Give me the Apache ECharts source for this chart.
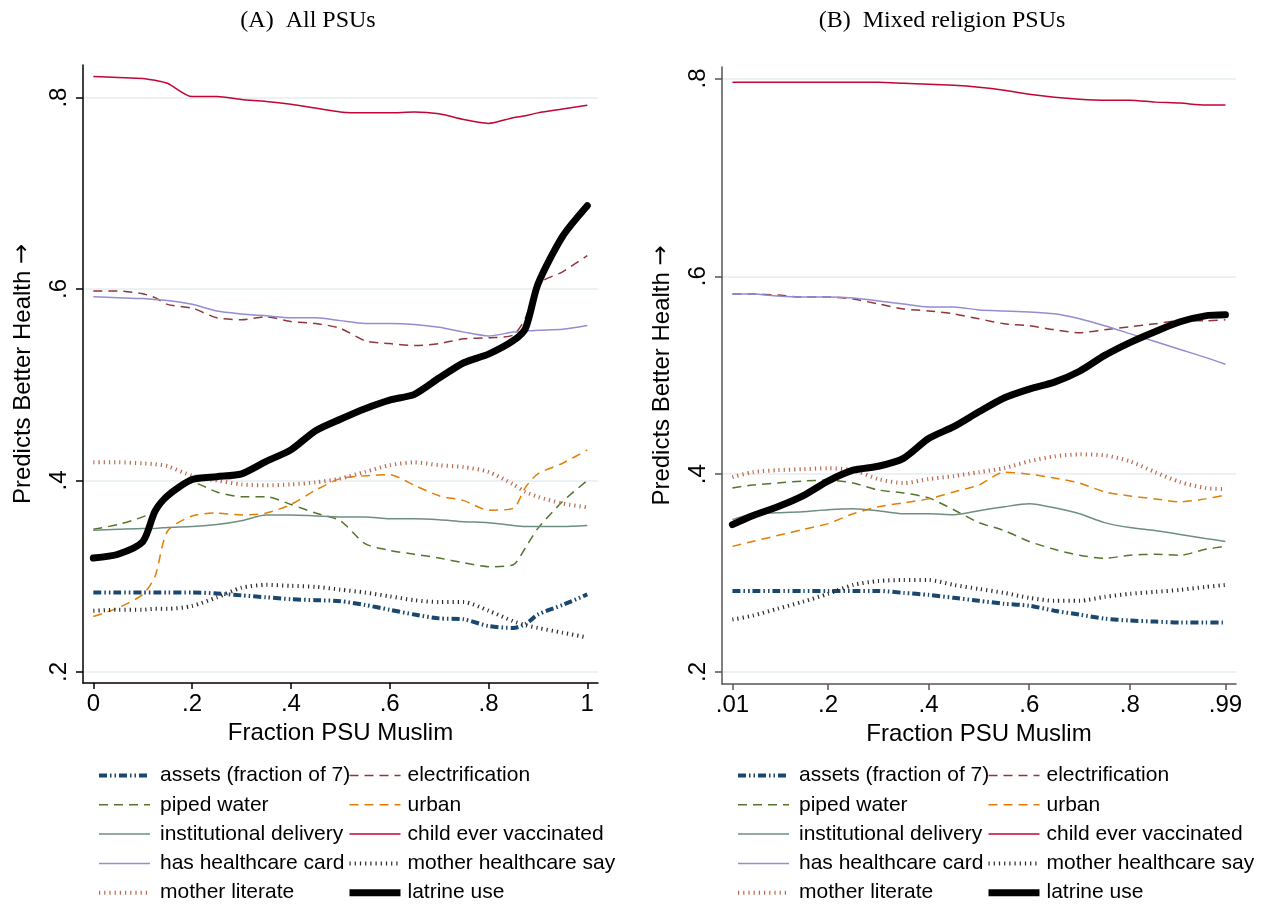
<!DOCTYPE html>
<html>
<head>
<meta charset="utf-8">
<script src="https://cdn.jsdelivr.net/npm/echarts@6/dist/echarts.min.js"></script>
<style>
html, body { margin: 0; padding: 0; background: #fff; }
#chart { width: 1265px; height: 905px; }
</style>
</head>
<body>
<div id="chart"></div>
<script>
'use strict';

// ---- data ----
const seriesNames = ['assets (fraction of 7)', 'electrification', 'piped water', 'urban',
    'institutional delivery', 'child ever vaccinated', 'has healthcare card',
    'mother healthcare say', 'mother literate', 'latrine use'];

// (A) All PSUs
const xA = [0, .05, .1, .125, .15, .2, .25, .3, .35, .4, .45, .5, .55, .6, .65, .7, .75, .8, .85, .875, .9, .95, 1];
const assetsA = [.283, .283, .283, .283, .283, .283, .282, .280, .278, .276, .275, .274, .270, .265, .260, .256, .255, .248, .246, .250, .260, .270, .281];
const electrificationA = [.598, .598, .595, .591, .584, .580, .570, .568, .571, .566, .564, .559, .546, .543, .541, .543, .548, .549, .552, .570, .605, .618, .635];
const pipedA = [.349, .354, .362, .368, .388, .398, .388, .383, .383, .375, .366, .358, .334, .327, .323, .319, .314, .310, .312, .330, .350, .378, .400];
const urbanA = [.258, .267, .281, .300, .347, .363, .366, .364, .366, .375, .390, .402, .405, .406, .395, .384, .379, .369, .371, .393, .407, .418, .432];
const institutionalA = [.348, .349, .350, .350, .351, .352, .354, .358, .364, .364, .363, .362, .362, .360, .360, .359, .357, .356, .353, .352, .352, .352, .353];
const vaccinatedA = [.822, .821, .820, .818, .815, .801, .801, .798, .796, .793, .789, .785, .784, .784, .785, .783, .777, .773, .779, .781, .784, .788, .792];
const cardA = [.592, .591, .590, .589, .588, .584, .577, .574, .572, .570, .570, .567, .564, .564, .563, .560, .555, .551, .555, .556, .557, .558, .562];
const sayA = [.264, .265, .265, .266, .266, .269, .278, .288, .291, .290, .289, .286, .283, .279, .275, .273, .273, .264, .253, .249, .246, .241, .236];
const literateA = [.419, .419, .418, .417, .415, .405, .400, .396, .395, .396, .398, .402, .409, .416, .419, .416, .414, .409, .396, .388, .383, .376, .372];
const latrineA = [.319, .323, .336, .368, .384, .401, .404, .407, .420, .432, .452, .464, .475, .484, .490, .507, .523, .532, .546, .559, .605, .655, .687];

// (B) Mixed religion PSUs
const xB = [.01, .05, .1, .15, .2, .25, .3, .35, .4, .45, .5, .55, .6, .65, .7, .75, .8, .85, .9, .95, .99];
const assetsB = [.282, .282, .282, .282, .282, .282, .282, .280, .278, .275, .272, .269, .267, .262, .258, .254, .252, .251, .250, .250, .250];
const electrificationB = [.582, .582, .581, .579, .579, .577, .572, .567, .565, .562, .557, .552, .550, .546, .543, .546, .549, .552, .555, .555, .556];
const pipedB = [.386, .389, .391, .393, .394, .391, .384, .381, .376, .364, .351, .343, .332, .324, .318, .315, .318, .319, .318, .324, .327];
const urbanB = [.327, .332, .338, .344, .350, .360, .367, .371, .375, .382, .389, .402, .400, .396, .391, .382, .378, .375, .372, .375, .379];
const institutionalB = [.354, .360, .361, .362, .364, .365, .363, .360, .360, .359, .363, .367, .370, .366, .360, .351, .346, .343, .339, .335, .332];
const vaccinatedB = [.796, .796, .796, .796, .796, .796, .796, .795, .794, .793, .791, .788, .784, .781, .779, .778, .778, .776, .775, .773, .773];
const cardB = [.582, .582, .580, .579, .579, .578, .575, .572, .569, .569, .566, .565, .564, .562, .557, .550, .542, .534, .526, .518, .511];
const sayB = [.253, .257, .264, .271, .279, .288, .292, .293, .293, .288, .284, .280, .275, .272, .272, .276, .279, .281, .283, .286, .288];
const literateB = [.397, .402, .404, .405, .406, .404, .395, .391, .395, .398, .402, .406, .413, .418, .420, .419, .413, .402, .392, .386, .385];
const latrineB = [.349, .358, .367, .378, .393, .404, .408, .416, .436, .448, .463, .477, .486, .493, .504, .520, .533, .544, .554, .560, .561];

// ticks
const xTicksA = [0, .2, .4, .6, .8, 1];
const xTickLabelsA = ['0', '.2', '.4', '.6', '.8', '1'];
const xTicksB = [.01, .2, .4, .6, .8, .99];
const xTickLabelsB = ['.01', '.2', '.4', '.6', '.8', '.99'];
const yTicks = [.2, .4, .6, .8];
const yTickLabels = ['.2', '.4', '.6', '.8'];

const valuesA = [assetsA, electrificationA, pipedA, urbanA, institutionalA, vaccinatedA, cardA, sayA, literateA, latrineA];
const valuesB = [assetsB, electrificationB, pipedB, urbanB, institutionalB, vaccinatedB, cardB, sayB, literateB, latrineB];

// ---- styles ----
const lineStyles = {
    'assets (fraction of 7)': {color: '#1a476f', width: 4, type: [8, 3, 1.5, 3, 1.5, 3]},
    'electrification': {color: '#90353b', width: 1.5, type: [9, 6]},
    'piped water': {color: '#55752f', width: 1.5, type: [9, 6]},
    'urban': {color: '#e37e00', width: 1.5, type: [9, 6]},
    'institutional delivery': {color: '#6e8e84', width: 1.5, type: 'solid'},
    'child ever vaccinated': {color: '#c10534', width: 1.5, type: 'solid'},
    'has healthcare card': {color: '#938dd2', width: 1.5, type: 'solid'},
    'mother healthcare say': {color: '#2a2a2a', width: 4, type: [1.2, 4]},
    'mother literate': {color: '#b8694e', width: 4, type: [1.2, 4]},
    'latrine use': {color: '#000000', width: 7, type: 'solid', cap: 'round', join: 'round'}
};

const SANS = '"Liberation Sans", Arial, Helvetica, sans-serif';
const SERIF = '"Liberation Serif", "Times New Roman", serif';

function buildSeries(gridIdx, xs, values) {
    return seriesNames.map(function(name, k) {
        const st = lineStyles[name];
        return {
            name: name,
            type: 'line',
            xAxisIndex: gridIdx,
            yAxisIndex: gridIdx,
            data: xs.map((x, i) => [x, values[k][i]]),
            showSymbol: false,
            symbol: 'none',
            smooth: 0.25,
            color: st.color,
            lineStyle: st,
            z: 2 + k,
            silent: true
        };
    });
}

function xAxisOf(gridIdx, min, max, ticks, labels, axisColor) {
    return {
        gridIndex: gridIdx,
        type: 'value',
        min: min,
        max: max,
        axisLine: {onZero: false, lineStyle: {color: axisColor, width: 1.5}},
        axisTick: {customValues: ticks, length: 6, lineStyle: {color: axisColor, width: 1.5}},
        axisLabel: {
            customValues: ticks,
            formatter: v => labels[ticks.indexOf(v)],
            fontSize: 24, color: '#000', fontFamily: SANS, margin: 9
        },
        splitLine: {show: false},
        name: 'Fraction PSU Muslim',
        nameLocation: 'middle',
        nameGap: 34,
        nameTextStyle: {fontSize: 24, color: '#000', fontFamily: SANS}
    };
}

function yAxisOf(gridIdx, min, max, axisColor) {
    return {
        gridIndex: gridIdx,
        type: 'value',
        min: min,
        max: max,
        axisLine: {show: true, onZero: false, lineStyle: {color: axisColor, width: 1.5}},
        axisTick: {show: true, customValues: yTicks, length: 7, lineStyle: {color: axisColor, width: 1.5}},
        axisLabel: {
            customValues: yTicks,
            formatter: v => yTickLabels[yTicks.indexOf(v)],
            rotate: 90,
            fontSize: 24, color: '#000', fontFamily: SANS, margin: 12
        },
        splitLine: {show: true, lineStyle: {color: '#e6eef0', width: 1.5}},
        name: 'Predicts Better Health {arrow|\u2192}',
        nameLocation: 'middle',
        nameRotate: 90,
        nameGap: 48,
        nameTextStyle: {
            fontSize: 24, color: '#000', fontFamily: SANS,
            rich: {arrow: {fontSize: 24, color: '#000', fontFamily: '"DejaVu Sans", sans-serif'}}
        }
    };
}

function legendOf(left, names, textPad) {
    return {
        left: left,
        top: 765,
        orient: 'vertical',
        padding: 0,
        itemWidth: 51,
        itemHeight: 14,
        itemGap: 8.3,
        selectedMode: false,
        data: names,
        itemStyle: {opacity: 0},
        lineStyle: {width: 'inherit', type: 'inherit', color: 'inherit', cap: 'butt'},
        textStyle: {fontSize: 21, lineHeight: 21, color: '#000', fontFamily: SANS, padding: [0, 0, 0, textPad]}
    };
}

const col1 = [seriesNames[0], seriesNames[2], seriesNames[4], seriesNames[6], seriesNames[8]];
const col2 = [seriesNames[1], seriesNames[3], seriesNames[5], seriesNames[7], seriesNames[9]];

let dom = document.getElementById('chart');
let myChart = echarts.init(dom, null, {renderer: 'canvas'});

let option = {
    backgroundColor: '#ffffff',
    animation: false,
    graphic: [
        {type: 'text', x: 308, y: 21, style: {text: '(A)  All PSUs', align: 'center', verticalAlign: 'middle',
            fontSize: 24, fontFamily: SERIF, fill: '#000'}},
        {type: 'text', x: 942, y: 21, style: {text: '(B)  Mixed religion PSUs', align: 'center', verticalAlign: 'middle',
            fontSize: 24, fontFamily: SERIF, fill: '#000'}}
    ],
    grid: [
        {left: 83, top: 65, width: 515, height: 618},
        {left: 722, top: 67, width: 514, height: 617}
    ],
    xAxis: [
        xAxisOf(0, -0.0209, 1.0217, xTicksA, xTickLabelsA, '#000'),
        xAxisOf(1, -0.0107, 1.011, xTicksB, xTickLabelsB, '#555')
    ],
    yAxis: [
        yAxisOf(0, 0.1885, 0.834, '#000'),
        yAxisOf(1, 0.1879, 0.8115, '#555')
    ],
    legend: [
        legendOf(97, col1, 5),
        legendOf(346, col2, 2),
        legendOf(736, col1, 5),
        legendOf(985, col2, 2)
    ],
    series: buildSeries(0, xA, valuesA).concat(buildSeries(1, xB, valuesB))
};

if (option && typeof option === 'object') {
    myChart.setOption(option, true);
}
</script>
</body>
</html>
